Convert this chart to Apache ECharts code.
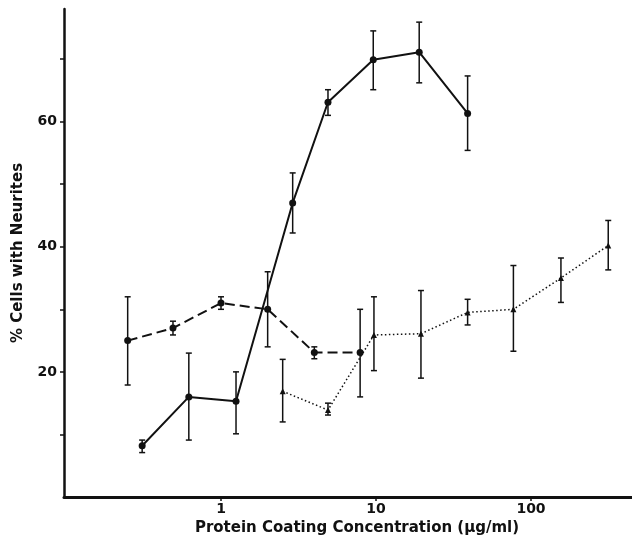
<!DOCTYPE html>
<html>
<head>
<meta charset="utf-8">
<script src="https://cdn.jsdelivr.net/npm/echarts@6/dist/echarts.min.js"></script>
<style>html,body{margin:0;padding:0;background:#fff}#c{width:632px;height:537px}</style>
</head>
<body>
<div id="c"></div>
<script>
// Solid series (circles, solid line)
const solidX  = [0.31, 0.62, 1.25, 2.9, 4.9, 9.6, 19, 39];
const solidY  = [8.2, 16.0, 15.3, 47.0, 63.1, 69.9, 71.1, 61.3];
const solidLo = [7.1, 9.1, 10.1, 42.2, 61.0, 65.1, 66.2, 55.4];
const solidHi = [9.1, 23.0, 20.0, 51.8, 65.1, 74.5, 75.9, 67.3];
// Dashed series (circles, dashed line)
const dashX  = [0.25, 0.49, 1.0, 2.0, 4.0, 7.9];
const dashY  = [25.0, 27.0, 31.0, 30.0, 23.1, 23.1];
const dashLo = [17.9, 25.9, 30.0, 24.0, 22.1, 16.0];
const dashHi = [32.0, 28.1, 32.0, 36.0, 24.0, 30.0];
// Dotted series (triangles, dotted line)
const dotX  = [2.5, 4.9, 9.7, 19.5, 39, 77, 156, 315];
const dotY  = [16.9, 13.9, 25.9, 26.1, 29.5, 30.0, 35.0, 40.2];
const dotLo = [12.0, 13.1, 20.2, 19.0, 27.5, 23.3, 31.1, 36.3];
const dotHi = [22.0, 15.0, 32.0, 33.0, 31.6, 37.0, 38.2, 44.2];

const xTickValues = [1, 10, 100];
const yTickValues = [10, 20, 30, 40, 50, 60, 70];
const yLabelValues = [20, 40, 60];

const INK = '#111';
const FONT = 'DejaVu Sans, Liberation Sans, sans-serif';

function pts(xs, ys) { return xs.map((x, i) => [x, ys[i]]); }
function errs(xs, lo, hi) { return xs.map((x, i) => [x, lo[i], hi[i]]); }

function errorBar(width) {
  return function (params, api) {
    const x = api.value(0);
    const a = api.coord([x, api.value(1)]);
    const b = api.coord([x, api.value(2)]);
    const cap = 3;
    const style = { stroke: INK, lineWidth: width };
    return {
      type: 'group',
      children: [
        { type: 'line', shape: { x1: a[0], y1: a[1], x2: b[0], y2: b[1] }, style },
        { type: 'line', shape: { x1: a[0] - cap, y1: a[1], x2: a[0] + cap, y2: a[1] }, style },
        { type: 'line', shape: { x1: b[0] - cap, y1: b[1], x2: b[0] + cap, y2: b[1] }, style }
      ]
    };
  };
}

const chart = echarts.init(document.getElementById('c'), null, { renderer: 'canvas' });
chart.setOption({
  backgroundColor: '#fff',
  animation: false,
  grid: { left: 64, right: 0, top: 9, bottom: 40, containLabel: false, outerBoundsMode: 'none' },
  xAxis: {
    type: 'log',
    logBase: 10,
    min: Math.pow(10, -157 / 155),
    max: Math.pow(10, 411 / 155),
    axisLine: { lineStyle: { color: INK, width: 3 } },
    axisTick: { show: true, length: 4, customValues: xTickValues, lineStyle: { color: INK, width: 1.5 } },
    minorTick: { show: false },
    splitLine: { show: false },
    axisLabel: {
      color: INK, fontFamily: FONT, fontWeight: 'bold', fontSize: 14, margin: 5,
      customValues: xTickValues,
      formatter: function (v) { return String(Math.round(v)); }
    },
    name: 'Protein Coating Concentration (\u00b5g/ml)',
    nameLocation: 'middle',
    nameGap: 24,
    nameTextStyle: { color: INK, fontFamily: FONT, fontWeight: 'bold', fontSize: 15, padding: [0, 0, 0, 18] }
  },
  yAxis: {
    type: 'value',
    min: 0,
    max: 78,
    interval: 10,
    axisLine: { show: true, lineStyle: { color: INK, width: 2.5 } },
    axisTick: { show: true, length: 4, customValues: yTickValues, lineStyle: { color: INK, width: 1.5 } },
    splitLine: { show: false },
    axisLabel: {
      color: INK, fontFamily: FONT, fontWeight: 'bold', fontSize: 14, margin: 7,
      customValues: yLabelValues
    },
    name: '% Cells with Neurites',
    nameLocation: 'middle',
    nameRotate: 90,
    nameGap: 38,
    nameTextStyle: { color: INK, fontFamily: FONT, fontWeight: 'bold', fontSize: 15 }
  },
  series: [
    {
      type: 'custom', renderItem: errorBar(1.5), data: errs(solidX, solidLo, solidHi),
      encode: { x: 0, y: [1, 2] }, z: 3, silent: true
    },
    {
      type: 'custom', renderItem: errorBar(1.5), data: errs(dashX, dashLo, dashHi),
      encode: { x: 0, y: [1, 2] }, z: 3, silent: true
    },
    {
      type: 'custom', renderItem: errorBar(1.5), data: errs(dotX, dotLo, dotHi),
      encode: { x: 0, y: [1, 2] }, z: 3, silent: true
    },
    {
      type: 'line', data: pts(solidX, solidY), symbol: 'circle', symbolSize: 7,
      lineStyle: { color: INK, width: 2 }, itemStyle: { color: INK }, z: 4
    },
    {
      type: 'line', data: pts(dashX, dashY), symbol: 'circle', symbolSize: 7,
      lineStyle: { color: INK, width: 2, type: [10, 5] }, itemStyle: { color: INK }, z: 4
    },
    {
      type: 'line', data: pts(dotX, dotY), symbol: 'triangle', symbolSize: 6,
      lineStyle: { color: INK, width: 1.5, type: [1.5, 2.5] }, itemStyle: { color: INK }, z: 4
    }
  ]
});
</script>
</body>
</html>
